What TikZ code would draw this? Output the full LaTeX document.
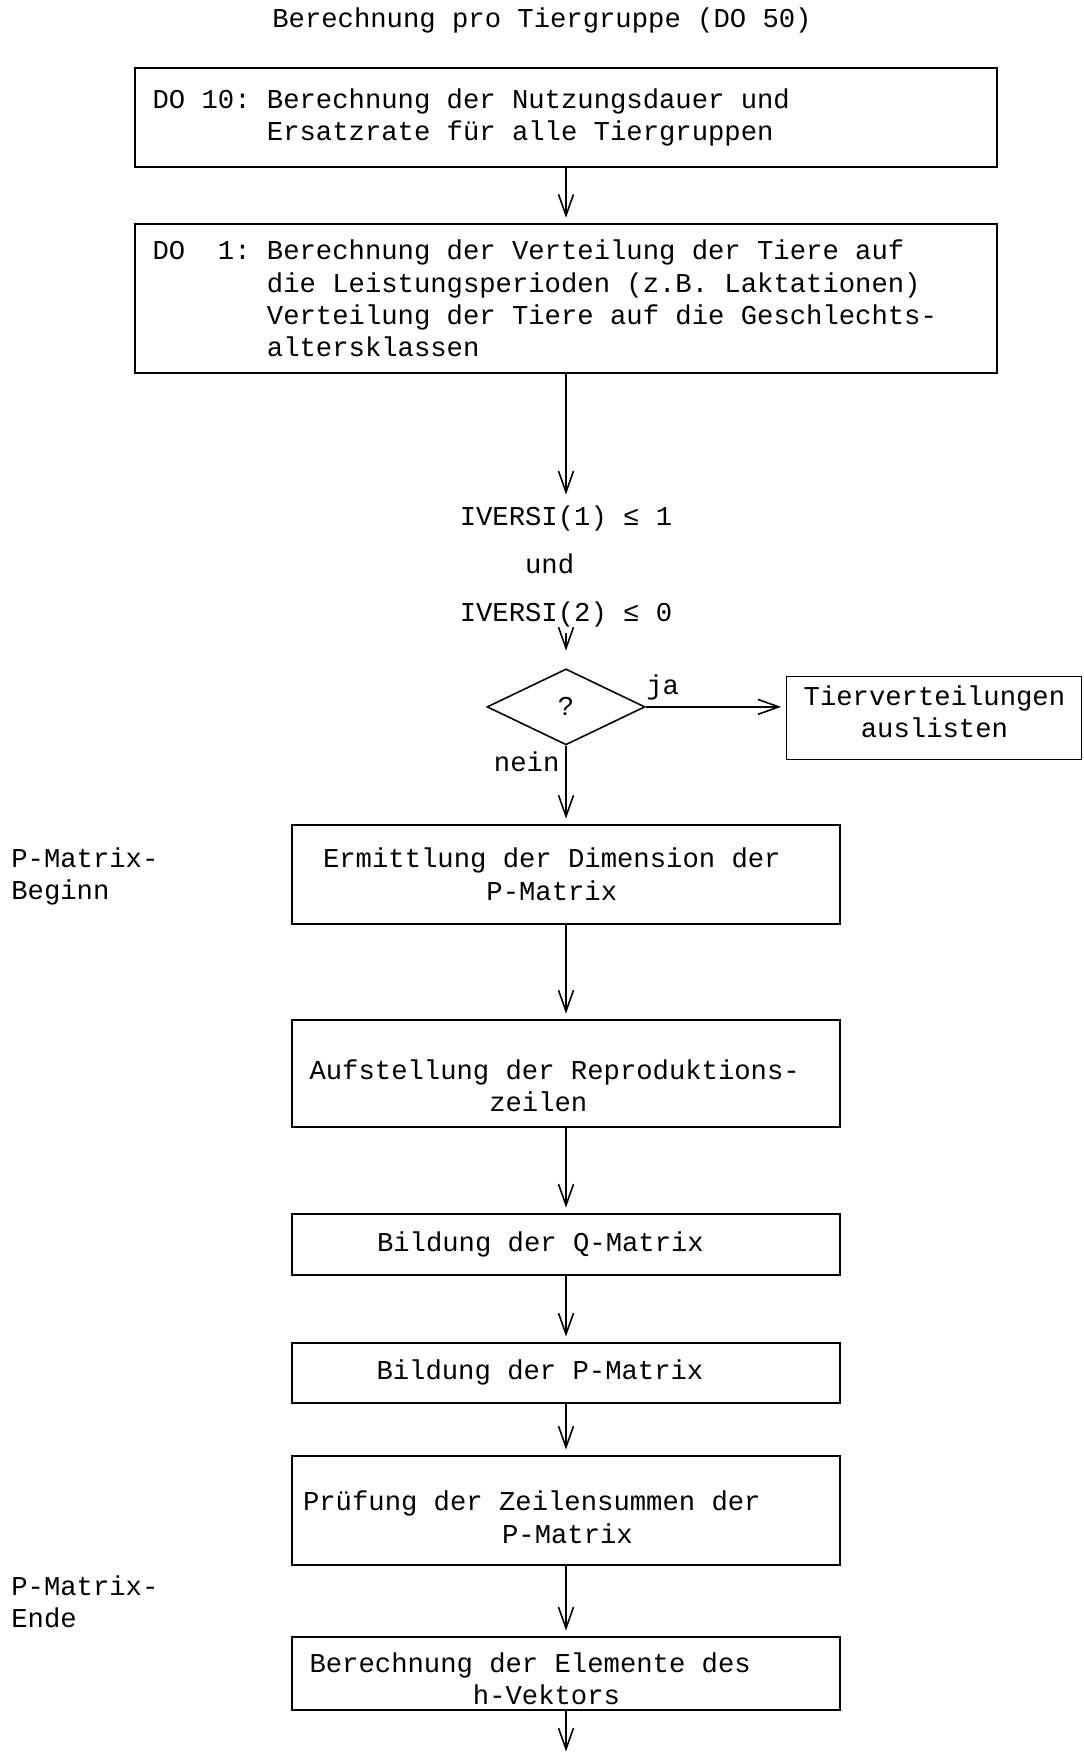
\documentclass[tikz,border=0pt]{standalone}
\usepackage{fontspec}
\setmonofont{Liberation Mono}
\usetikzlibrary{positioning, shapes.geometric, arrows.meta}
\newcommand{\flowfont}{\ttfamily\fontsize{15.5}{18.4}\selectfont\frenchspacing\spaceskip=0.6em\relax}
\newcommand{\topgap}[1]{\rule{0pt}{#1}}

\begin{document}
\begin{tikzpicture}[x=0.02cm, y=-0.02cm, on grid, auto, font=\flowfont,
  >={Straight Barb[length=0.42cm,width=0.3cm]}, shorten >=3pt,
  block/.style={draw, line width=1.1pt, text width=10.26cm, inner xsep=0.35cm, inner ysep=2pt, align=flush left},
  wide/.style={draw, line width=1.1pt, text width=16.54cm, inner xsep=0.36cm, align=flush left},
  decision/.style={draw, diamond, line width=0.9pt, minimum width=3.16cm, minimum height=1.52cm, inner sep=0pt},
  note/.style={align=left, inner xsep=0pt}]
\useasboundingbox (0,0) rectangle (1083,1757);
\node (title) at (542,20) {Berechnung pro Tiergruppe (DO 50)};
\node [wide, minimum height=1.98cm] (b_1) at (566,117.5) {DO 10: Berechnung der Nutzungsdauer und\\\phantom{DO 10: }Ersatzrate für alle Tiergruppen};
\node [wide, minimum height=2.98cm, below=3.62cm of b_1] (b_2) {DO~~1: Berechnung der Verteilung der Tiere auf\\\phantom{DO~~1: }die Leistungsperioden (z.B. Laktationen)\\\phantom{DO~~1: }Verteilung der Tiere auf die Geschlechts-\\\phantom{DO~~1: }altersklassen};
\node [note, below=5.36cm of b_2] (cond) {IVERSI(1) ≤ 1\\[8.8pt]\phantom{IVER}und\\[8.8pt]IVERSI(2) ≤ 0};
\node [decision, below=2.81cm of cond] (dia) {?};
\node [draw, line width=0.6pt, minimum width=5.9cm, minimum height=1.66cm, align=center, right=7.37cm of dia, yshift=-0.23cm] (list) {Tierverteilungen\\auslisten\rule[-0.27cm]{0pt}{0pt}};
\node [block, minimum height=1.98cm, below=3.35cm of dia] (b_3) {\hspace*{0.27cm}Ermittlung der Dimension der\\\hspace*{0.27cm}\hspace*{6em}P-Matrix};
\node [block, minimum height=2.14cm, below=3.98cm of b_3] (b_4) {\topgap{0.9cm}Aufstellung der Reproduktions-\\\hspace*{6.6em}zeilen};
\node [block, minimum height=1.22cm, below=3.42cm of b_4] (b_5) {\hspace*{1.35cm}Bildung der Q-Matrix};
\node [block, minimum height=1.2cm, below=2.57cm of b_5] (b_6) {\hspace*{1.34cm}Bildung der P-Matrix};
\node [block, minimum height=2.18cm, below=2.75cm of b_6] (b_7) {\topgap{0.67cm}\hspace*{-0.13cm}Prüfung der Zeilensummen der\\\hspace*{7.07em}P-Matrix};
\node [block, minimum height=1.46cm, below=3.26cm of b_7] (b_8) {\topgap{0.62cm}Berechnung der Elemente des\\\hspace*{6em}h-Vektors};
\coordinate [below=1.67cm of b_8] (out);
\node [note, anchor=west] (pbeg) at (11,876.5) {P-Matrix-\\Beginn};
\node [note, anchor=west] (pend) at (11,1601.5) {P-Matrix-\\Ende};
\path[->, line width=0.9pt]
  (b_1) edge (b_2)
  (b_2) edge (cond)
  (cond) edge [shorten >=0.35cm] (dia)
  (dia.east) edge node [pos=0.12] {ja} (dia.east -| list.west)
  (dia) edge node [swap, pos=0.2] {nein} (b_3)
  (b_3) edge (b_4)
  (b_4) edge (b_5)
  (b_5) edge (b_6)
  (b_6) edge (b_7)
  (b_7) edge (b_8)
  (b_8) edge (out);
\end{tikzpicture}
\end{document}
